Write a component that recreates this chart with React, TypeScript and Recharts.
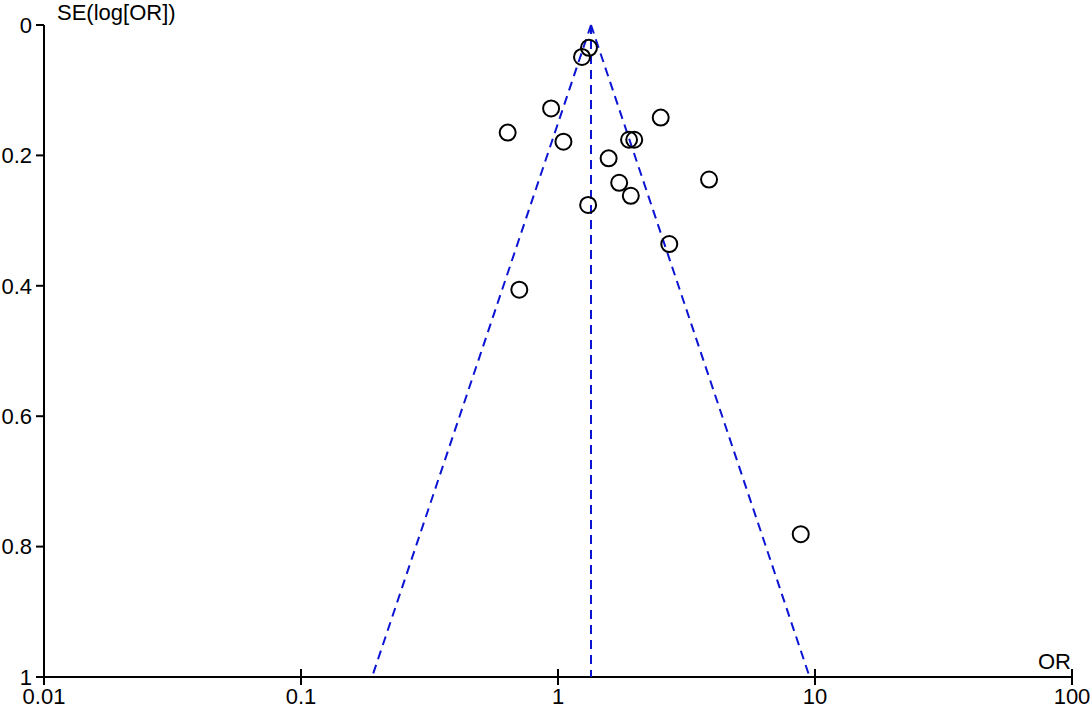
import React from "react";
import { Scatter, ScatterChart, XAxis, YAxis } from "recharts";

type Pt = { or: number; se: number };

const orValues = [1.32, 1.24, 0.94, 0.637, 1.05, 2.51, 1.89, 1.98, 1.574, 3.87, 1.73, 1.92, 1.31, 2.71, 0.707, 8.8];
const seValues = [0.035, 0.049, 0.128, 0.165, 0.179, 0.142, 0.176, 0.176, 0.2045, 0.237, 0.242, 0.262, 0.276, 0.336, 0.406, 0.781];

const pooledOR = 1.344;
const funnelLeft = 0.189;
const funnelRight = 9.53;
const seMax = 1;

const xTicks = [0.01, 0.1, 1, 10, 100];
const yTicks = [0, 0.2, 0.4, 0.6, 0.8, 1];

const studies: Pt[] = orValues.map((or, i) => ({ or, se: seValues[i] }));
const leftEdge: Pt[] = [{ or: pooledOR, se: 0 }, { or: funnelLeft, se: seMax }];
const rightEdge: Pt[] = [{ or: pooledOR, se: 0 }, { or: funnelRight, se: seMax }];
const centre: Pt[] = [{ or: pooledOR, se: 0 }, { or: pooledOR, se: seMax }];

const FONT = '"Liberation Sans", Arial, sans-serif';
const BLUE = "#0a14d2";

const fmt = (v: number) => String(Number(v.toFixed(2)));

function XTick(props: any) {
  const { x, y, payload } = props;
  return (
    <g>
      <line x1={x} x2={x} y1={y - 10} y2={y - 18} stroke="#000" strokeWidth={2} />
      <text x={x} y={y + 1} dy="0.71em" textAnchor="middle" fontSize={22} fontFamily={FONT} fill="#000">
        {fmt(payload.value)}
      </text>
    </g>
  );
}

const noDot = () => <g />;

export default function App() {
  const dash = { stroke: BLUE, strokeWidth: 2, strokeDasharray: "9 6" };
  return (
    <div style={{ position: "absolute", left: 0, top: 0, width: 1092, height: 710, background: "#fff" }}>
      <ScatterChart width={1092} height={710} margin={{ top: 25, right: 20, bottom: 3, left: 0 }}>
        <XAxis
          type="number"
          dataKey="or"
          scale="log"
          domain={[0.01, 100]}
          ticks={xTicks}
          allowDataOverflow
          height={30}
          tickSize={8}
          tickMargin={2}
          tick={<XTick />}
          axisLine={{ stroke: "#000", strokeWidth: 2 }}
          tickLine={{ stroke: "#000", strokeWidth: 2 }}
        />
        <YAxis
          type="number"
          dataKey="se"
          domain={[0, 1]}
          ticks={yTicks}
          reversed
          width={44}
          tickSize={8}
          tickMargin={4}
          tickFormatter={fmt}
          tick={{ fontSize: 22, fill: "#000", fontFamily: FONT }}
          axisLine={{ stroke: "#000", strokeWidth: 2 }}
          tickLine={{ stroke: "#000", strokeWidth: 2 }}
        />
        <Scatter data={leftEdge} line={dash} shape={noDot} isAnimationActive={false} />
        <Scatter data={rightEdge} line={dash} shape={noDot} isAnimationActive={false} />
        <Scatter data={centre} line={dash} shape={noDot} isAnimationActive={false} />
        <Scatter
          data={studies}
          isAnimationActive={false}
          shape={(p: any) => <circle cx={p.cx} cy={p.cy} r={8} fill="none" stroke="#000" strokeWidth={2} />}
        />
      </ScatterChart>
      <svg width={1092} height={710} style={{ position: "absolute", left: 0, top: 0, pointerEvents: "none" }}>
        <text x={57} y={20} fontSize={22} fontFamily={FONT} fill="#000">
          SE(log[OR])
        </text>
        <text x={1071} y={669} fontSize={22} fontFamily={FONT} fill="#000" textAnchor="end">
          OR
        </text>
      </svg>
    </div>
  );
}
